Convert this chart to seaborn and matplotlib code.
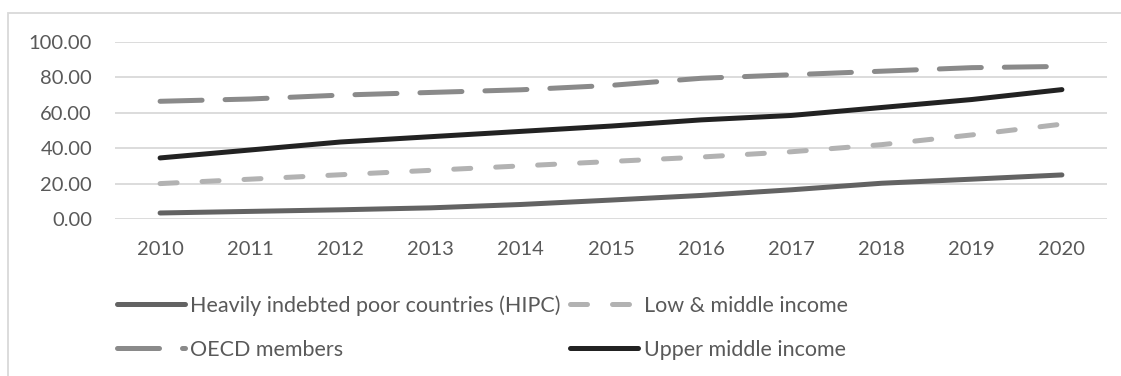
import matplotlib
matplotlib.use("Agg")
import matplotlib.pyplot as plt
import seaborn as sns
import pandas as pd
from matplotlib.patches import Rectangle

years = [2010, 2011, 2012, 2013, 2014, 2015, 2016, 2017, 2018, 2019, 2020]
hipc = [3.4, 4.3, 5.2, 6.3, 8.2, 10.7, 13.3, 16.5, 20.2, 22.5, 24.9]
low_middle = [20.0, 22.5, 25.0, 27.5, 30.0, 32.5, 35.0, 38.0, 42.0, 47.5, 53.6]
oecd = [66.5, 67.8, 70.0, 71.5, 73.0, 75.5, 79.5, 81.5, 83.5, 85.5, 86.2]
upper_middle = [34.5, 39.0, 43.5, 46.5, 49.5, 52.5, 56.0, 58.5, 63.0, 67.5, 73.1]

names = ["Heavily indebted poor countries (HIPC)", "Low & middle income",
         "OECD members", "Upper middle income"]
series = [hipc, low_middle, oecd, upper_middle]
colors = ["#636363", "#b2b2b2", "#8a8a8a", "#222222"]
dashes = [None, (3.4, 5.0), (8.4, 4.6), None]

sns.set_style("white")
plt.rcParams['font.family'] = ['Lato', 'DejaVu Sans']

W, H = 1121, 376
fig = plt.figure(figsize=(W / 100, H / 100), dpi=100)
fig.patches.append(Rectangle((8 / W, -0.05), 1.1, 1 - 13 / H + 0.05,
                             transform=fig.transFigure, fill=False,
                             edgecolor="#d9d9d9", linewidth=1.3))
ax = fig.add_axes([115 / W, 1 - 219 / H, (1107 - 115) / W, (219 - 42) / H])

handles = []
for name, vals, c, d in zip(names, series, colors, dashes):
    df = pd.DataFrame({"year": years, "value": vals})
    sns.lineplot(data=df, x="year", y="value", ax=ax, color=c, linewidth=3.6)
    ln = ax.lines[-1]
    ln.set_solid_capstyle("round")
    ln.set_dash_capstyle("round")
    ln.set_solid_joinstyle("round")
    if d is not None:
        ln.set_dashes(d)
    handles.append(ln)

ax.set_xlim(2009.5, 2020.5)
ax.set_ylim(0, 100)
yt = [0, 20, 40, 60, 80, 100]
ax.set_yticks(yt)
ax.set_yticklabels([f"{v:.2f}" for v in yt])
ax.set_xticks(years)
ax.set_xticklabels([str(y) for y in years])
ax.set_xlabel("")
ax.set_ylabel("")
for s in ax.spines.values():
    s.set_visible(False)
ax.yaxis.grid(True, color="#d9d9d9", linewidth=1.3)
ax.set_axisbelow(True)
ax.tick_params(axis="both", length=0, labelsize=14.5, labelcolor="#595959")
ax.tick_params(axis="y", pad=16.5)
ax.tick_params(axis="x", pad=16)

order = [0, 2, 1, 3]
leg = fig.legend([handles[i] for i in order], [names[i] for i in order],
                 ncol=2, loc="upper left", bbox_to_anchor=(117 / W, 1 - 295 / H),
                 frameon=False, fontsize=15.5, handlelength=3.15, handletextpad=0.25,
                 columnspacing=0.45, labelspacing=1.12, borderaxespad=0, borderpad=0)
for t in leg.get_texts():
    t.set_color("#595959")

fig.savefig("out.png", dpi=100)
